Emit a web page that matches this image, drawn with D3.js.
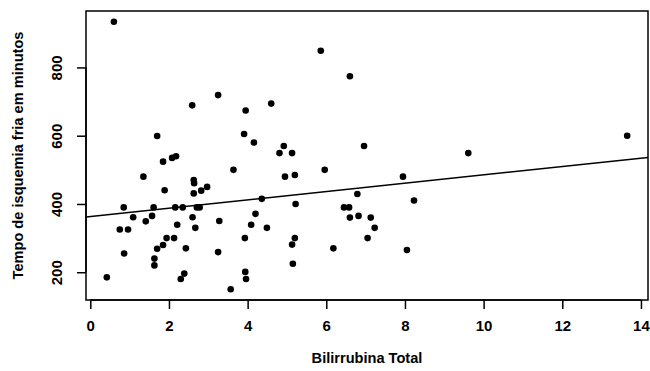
<!DOCTYPE html>
<html><head><meta charset="utf-8">
<script src="https://cdn.jsdelivr.net/npm/d3@7"></script>
<style>body{margin:0;background:#fff}svg{display:block}</style>
</head><body>
<script>
const bilirrubina = [0.60,2.59,3.25,3.95,4.60,5.86,6.60,1.70,3.91,1.85,2.08,2.18,4.16,4.92,4.81,5.13,6.96,9.61,13.65,1.35,3.64,4.95,5.20,5.96,7.95,1.89,2.63,2.64,2.63,2.82,2.97,0.85,1.61,2.16,2.35,2.71,2.78,4.36,5.22,6.79,8.23,6.45,6.58,1.09,1.41,1.57,0.75,0.96,2.21,2.60,2.67,3.28,4.20,4.09,4.49,6.60,6.82,7.13,7.23,0.86,1.94,2.13,1.85,1.70,2.43,1.63,1.63,2.39,2.30,0.42,3.93,5.20,5.13,5.15,3.25,3.94,3.96,3.57,7.05,6.18,8.05];
const isquemia = [934,689,719,674,694,849,774,599,605,524,535,540,580,570,549,549,570,549,600,480,500,480,485,500,480,440,470,461,431,439,450,390,390,390,390,390,390,415,400,429,410,390,390,361,349,365,325,325,339,361,330,350,371,339,330,360,365,360,330,255,300,300,280,269,270,240,220,196,180,185,300,300,281,225,259,201,180,150,300,270,265];
const xTicks = [0,2,4,6,8,10,12,14];
const yTicks = [200,400,600,800];
const fitIntercept = 363.2, fitSlope = 12.21;
const xLabel = "Bilirrubina Total";
const yLabel = "Tempo de isquemia fria em minutos";

const W = 650, H = 371;
const L = 86, R = 648, T = 11, B = 300;
const svg = d3.select("body").append("svg").attr("width", W).attr("height", H);
const xMin = d3.min(bilirrubina), xMax = d3.max(bilirrubina);
const yMin = d3.min(isquemia), yMax = d3.max(isquemia);
const xPad = (xMax - xMin) * 0.04, yPad = (yMax - yMin) * 0.04;
const x = d3.scaleLinear().domain([xMin - xPad, xMax + xPad]).range([L, R]);
const y = d3.scaleLinear().domain([yMin - yPad, yMax + yPad]).range([B, T]);
const font = "'Liberation Sans', Arial, Helvetica, sans-serif";

// regression line clipped to plot
svg.append("clipPath").attr("id","clip").append("rect").attr("x",L).attr("y",T).attr("width",R-L).attr("height",B-T);
const xd = x.domain();
svg.append("line").attr("clip-path","url(#clip)")
  .attr("x1", x(xd[0])).attr("y1", y(fitIntercept + fitSlope*xd[0]))
  .attr("x2", x(xd[1])).attr("y2", y(fitIntercept + fitSlope*xd[1]))
  .attr("stroke","#000").attr("stroke-width",1.5);

// points
svg.append("g").selectAll("circle").data(bilirrubina).join("circle")
  .attr("cx", (d,i) => x(d)).attr("cy", (d,i) => y(isquemia[i])).attr("r", 3.3).attr("fill","#000");

// box
svg.append("rect").attr("x",L).attr("y",T).attr("width",R-L).attr("height",B-T)
  .attr("fill","none").attr("stroke","#000").attr("stroke-width",1.5);

// x axis
const xa = svg.append("g").attr("transform",`translate(0,${B})`)
  .call(d3.axisBottom(x).tickValues(xTicks).tickSize(9).tickPadding(11).tickFormat(d3.format("d")));
xa.select(".domain").attr("d", `M${x(xTicks[0])},0H${x(xTicks[xTicks.length-1])}`).attr("stroke-width",1.5);
xa.selectAll(".tick line").attr("stroke-width",1.5);
xa.selectAll("text").attr("font-family",font).attr("font-size",15).attr("font-weight","bold").attr("fill","#000");

// y axis
const ya = svg.append("g").attr("transform",`translate(${L},0)`)
  .call(d3.axisLeft(y).tickValues(yTicks).tickSize(9).tickFormat(d3.format("d")));
ya.select(".domain").attr("d", `M0,${y(yTicks[0])}V${y(yTicks[yTicks.length-1])}`).attr("stroke-width",1.5);
ya.selectAll(".tick line").attr("stroke-width",1.5);
ya.selectAll("text").attr("font-family",font).attr("font-size",15).attr("font-weight","bold").attr("fill","#000")
  .attr("x",0).attr("dy",0).attr("text-anchor","middle")
  .attr("transform","translate(-30,0) rotate(-90)").attr("dominant-baseline","central");

// titles
svg.append("text").attr("x",(L+R)/2).attr("y",363).attr("text-anchor","middle")
  .attr("font-family",font).attr("font-size",14.6).attr("font-weight","bold").text(xLabel);
svg.append("text").attr("transform",`translate(23,${(T+B)/2}) rotate(-90)`).attr("text-anchor","middle")
  .attr("font-family",font).attr("font-size",14.6).attr("font-weight","bold").text(yLabel);
</script>
</body></html>
